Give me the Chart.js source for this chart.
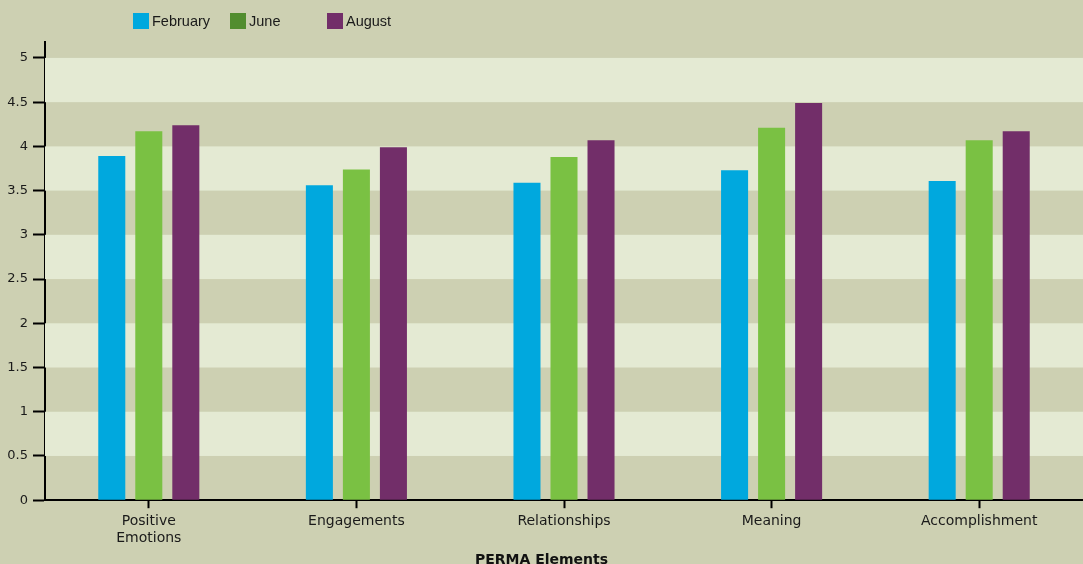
<!DOCTYPE html>
<html>
<head>
<meta charset="utf-8">
<script src="https://cdn.jsdelivr.net/npm/chart.js@4/dist/chart.umd.min.js"></script>
<style>
  html, body { margin: 0; padding: 0; background: #cdd0b2; overflow: hidden; }
  #wrap { position: relative; width: 1083px; height: 570px; }
  #legend { position: absolute; left: 133px; top: 13px; display: flex; font: 14.5px "Liberation Sans", Arial, sans-serif; color: #1a1a1a; }
  #legend .item { width: 97px; display: flex; align-items: center; }
  #legend .sw { width: 16px; height: 16px; margin-right: 3px; }
</style>
</head>
<body>
<div id="wrap">
  <canvas id="chart" width="1083" height="570"></canvas>
  <div id="legend"></div>
</div>
<script>
// PERMA survey averages
const categories = [['Positive', 'Emotions'], 'Engagements', 'Relationships', 'Meaning', 'Accomplishment'];
const february = [3.89, 3.56, 3.59, 3.73, 3.61];
const june = [4.17, 3.74, 3.88, 4.21, 4.07];
const august = [4.24, 3.99, 4.07, 4.49, 4.17];
const seriesNames = ['February', 'June', 'August'];
const barColors = ['#00a8de', '#7ac143', '#722e69'];
const legendColors = ['#00a8de', '#528d2f', '#722e69'];
const yTickStep = 0.5;
const yTickMax = 5;

// alternating horizontal bands behind the bars
const bandsPlugin = {
    id: 'bands',
    beforeDatasetsDraw(chart) {
        const { ctx, chartArea, scales } = chart;
        ctx.save();
        ctx.fillStyle = '#e4ead3';
        for (let v = yTickStep; v < yTickMax; v += yTickStep * 2) {
            const top = scales.y.getPixelForValue(v + yTickStep);
            const bottom = scales.y.getPixelForValue(v);
            ctx.fillRect(chartArea.left, top, chartArea.right - chartArea.left, bottom - top);
        }
        ctx.restore();
    }
};

const ctx = document.getElementById('chart').getContext('2d');
new Chart(ctx, {
    type: 'bar',
    data: {
        labels: categories,
        datasets: [february, june, august].map((d, i) => ({
            label: seriesNames[i],
            data: d,
            backgroundColor: barColors[i],
            borderWidth: 0
        }))
    },
    options: {
        responsive: false,
        animation: false,
        categoryPercentage: 0.535,
        barPercentage: 0.73,
        layout: { padding: { top: 42, right: 0, left: 0, bottom: 0 } },
        plugins: {
            legend: { display: false },
            tooltip: { enabled: false },
            title: {
                display: true,
                position: 'bottom',
                text: 'PERMA Elements',
                color: '#111',
                font: { family: 'DejaVu Sans', size: 14, weight: 'bold' },
                padding: { top: 0, bottom: 1 }
            }
        },
        scales: {
            x: {
                afterFit(scale) { scale.height = 52; },
                border: { color: '#000', width: 2 },
                grid: { offset: false, drawOnChartArea: false, tickLength: 8, tickColor: '#000', tickWidth: 2 },
                ticks: { color: '#1a1a1a', font: { family: 'DejaVu Sans', size: 14 }, padding: 5, maxRotation: 0 }
            },
            y: {
                min: 0,
                max: 5.18,
                afterFit(scale) { scale.width = 45; },
                border: { color: '#000', width: 2 },
                grid: { drawOnChartArea: false, tickLength: 12, tickColor: '#000', tickWidth: 2 },
                ticks: {
                    stepSize: yTickStep,
                    includeBounds: false,
                    color: '#1a1a1a',
                    font: { family: 'DejaVu Sans', size: 13 },
                    padding: 5,
                    callback: v => String(v)
                }
            }
        }
    },
    plugins: [bandsPlugin]
});

const legend = document.getElementById('legend');
seriesNames.forEach((name, i) => {
    legend.innerHTML += `<div class="item"><span class="sw" style="background:${legendColors[i]}"></span>${name}</div>`;
});
</script>
</body>
</html>
